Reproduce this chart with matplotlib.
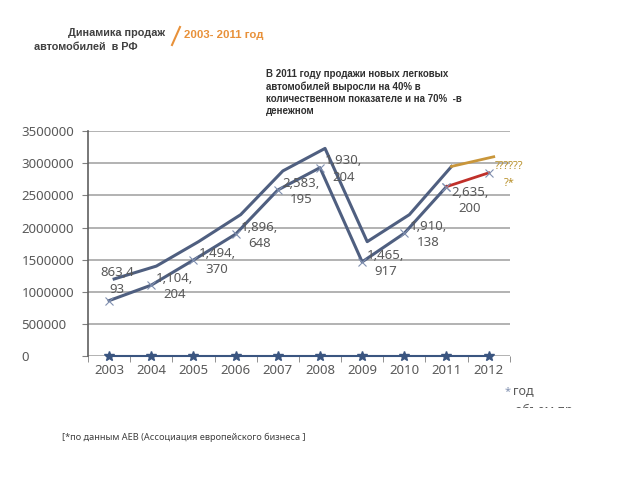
import matplotlib
matplotlib.use('Agg')
import matplotlib.pyplot as plt
from matplotlib.patches import Rectangle

plt.rcParams['font.family'] = ['Noto Sans', 'DejaVu Sans']

# данные
years = [2003, 2004, 2005, 2006, 2007, 2008, 2009, 2010, 2011]
sales = [863493, 1104204, 1494370, 1896648, 2583195, 2930204, 1465917, 1910138, 2635200]
sales_labels = ['863,4\n93', '1,104,\n204', '1,494,\n370', '1,896,\n648', '2,583,\n195',
                '1,930,\n204', '1,465,\n917', '1,910,\n138', '2,635,\n200']
money = [1200000, 1400000, 1780000, 2200000, 2880000, 3230000, 1780000, 2200000, 2950000]
forecast_years = [2011, 2012]
sales_forecast = [2635200, 2850000]
money_forecast = [2950000, 3100000]
all_years = [2003, 2004, 2005, 2006, 2007, 2008, 2009, 2010, 2011, 2012]
zeros = [0] * len(all_years)
yticks = [0, 500000, 1000000, 1500000, 2000000, 2500000, 3000000, 3500000]

line_col = '#4f5f80'
grey = '#595959'
bold_font = ['Liberation Sans', 'DejaVu Sans']

fig = plt.figure(figsize=(6.4, 4.8), dpi=100)
ax = fig.add_axes([0.1375, 0.258, 0.659, 0.469])

for y in yticks:
    ax.axhline(y, color='#a6a6a6', lw=1.2, zorder=0)

ax.plot([y + 0.12 for y in years], money, color=line_col, lw=2.2, zorder=3)
ax.plot([y + 0.12 for y in forecast_years], money_forecast, color='#c9963a', lw=2, zorder=3)
ax.plot(years, sales, color=line_col, lw=2.2, marker='x', ms=6, mew=0.8, mec='#8090b0', zorder=3)
ax.plot(forecast_years, sales_forecast, color='#c0302a', lw=2, marker='x', ms=6,
        mew=0.8, mec='#8090b0', zorder=3)
ax.plot(all_years, zeros, color='#3a5580', lw=1.5, marker='*', ms=7, zorder=4, clip_on=False)

for i, (x, v, lab) in enumerate(zip(years, sales, sales_labels)):
    dx, dy = 17, -1
    if i == 0:
        dx, dy = 6, 14
    if i == 8:
        dx, dy = 17, -10
    ax.annotate(lab, (x, v), xytext=(dx, dy), textcoords='offset points',
                ha='center', va='center', fontsize=9.5, color=grey,
                linespacing=1.35, zorder=5)

ax.text(2012.15, 2950000, '??????', color='#b8902a', fontsize=8, va='center')
ax.text(2012.35, 2680000, '?*', color='#b8902a', fontsize=8, va='center')

ax.set_xlim(2002.5, 2012.5)
ax.set_ylim(0, 3500000)
ax.set_xticks(all_years)
ax.set_xticks([y + 0.5 for y in range(2002, 2013)], minor=True)
ax.set_yticks(yticks)
ax.set_yticklabels([str(v) for v in yticks])
ax.tick_params(axis='x', which='major', length=0, pad=6, labelsize=9.5, labelcolor=grey)
ax.tick_params(axis='x', which='minor', length=4, color='#808080', direction='out')
ax.tick_params(axis='y', length=4, color='#808080', pad=44, labelsize=9.5, labelcolor=grey)
for t in ax.get_yticklabels():
    t.set_horizontalalignment('left')

for s in ['top', 'right', 'bottom']:
    ax.spines[s].set_visible(False)
ax.spines['left'].set_color('#606060')
ax.spines['left'].set_linewidth(1.2)

# заголовок
fig.text(165 / 640, 1 - 33 / 480, 'Динамика продаж', ha='right', va='center',
         fontsize=7.8, fontweight='bold', color='#404040', family=bold_font)
fig.text(34 / 640, 1 - 47 / 480, 'автомобилей  в РФ', ha='left', va='center',
         fontsize=7.8, fontweight='bold', color='#404040', family=bold_font)
fig.add_artist(plt.Line2D([172 / 640, 180 / 640], [1 - 45 / 480, 1 - 27 / 480],
                          color='#e8913a', lw=1.5))
fig.text(184 / 640, 1 - 35 / 480, '2003- 2011 год', ha='left', va='center',
         fontsize=8.2, fontweight='bold', color='#e8913a', family=bold_font)
fig.text(266 / 640, 1 - 69 / 480,
         'В 2011 году продажи новых легковых\nавтомобилей выросли на 40% в\n'
         'количественном показателе и на 70%  -в\nденежном',
         ha='left', va='top', fontsize=7.0, fontweight='bold', color='#303030',
         linespacing=1.25, family=bold_font)

# легенда
fig.text(508 / 640, 1 - 392 / 480, '*', color='#8090b0', fontsize=8, ha='center', va='center')
fig.text(513 / 640, 1 - 391 / 480, 'год', color=grey, fontsize=9, ha='left', va='center')
part = fig.text(515 / 640, 1 - 410 / 480, 'объем пр', color=grey, fontsize=9,
                ha='left', va='center')
clip = Rectangle((500, 480 - 408), 100, 10, transform=None)
part.set_clip_path(clip)

fig.text(62 / 640, 1 - 437 / 480, '[*по данным АЕВ (Ассоциация европейского бизнеса ]',
         ha='left', va='center', fontsize=6.6, color='#404040')

fig.savefig('out.png', dpi=100)
